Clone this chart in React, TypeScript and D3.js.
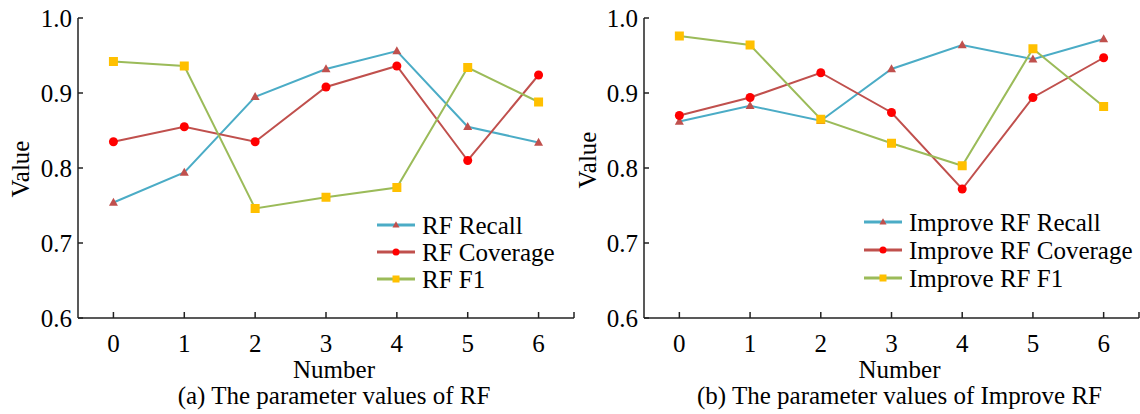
import React from "react"
import * as d3 from "d3"

const numbers = [0, 1, 2, 3, 4, 5, 6]
const yTicks = [0.6, 0.7, 0.8, 0.9, 1.0]

const rfRecall = [0.754, 0.794, 0.895, 0.932, 0.956, 0.855, 0.834]
const rfCoverage = [0.835, 0.855, 0.835, 0.908, 0.936, 0.81, 0.924]
const rfF1 = [0.942, 0.936, 0.746, 0.761, 0.774, 0.934, 0.888]

const impRecall = [0.862, 0.883, 0.863, 0.932, 0.964, 0.945, 0.972]
const impCoverage = [0.87, 0.894, 0.927, 0.874, 0.772, 0.894, 0.947]
const impF1 = [0.976, 0.964, 0.865, 0.833, 0.803, 0.959, 0.882]

const FONT = "'Liberation Serif', 'Times New Roman', serif"

type Marker = "triangle" | "circle" | "square"

interface Series {
  name: string
  values: number[]
  line: string
  fill: string
  marker: Marker
}

function MarkerShape({ type, x, y, size, fill }: { type: Marker; x: number; y: number; size: number; fill: string }) {
  if (type === "circle") return <circle cx={x} cy={y} r={size / 2} fill={fill} />
  if (type === "square")
    return <rect x={x - size / 2} y={y - size / 2} width={size} height={size} fill={fill} />
  const h = size * 0.9
  return (
    <path
      d={`M${x},${y - h * 0.6} L${x + size / 2},${y + h * 0.4} L${x - size / 2},${y + h * 0.4} Z`}
      fill={fill}
    />
  )
}

interface PanelProps {
  left: number
  right: number
  series: Series[]
  caption: string
  legendX: number
  legendY: number[]
  valueX: number
  valueY: number
}

function Panel({ left, right, series, caption, legendX, legendY, valueX, valueY }: PanelProps) {
  const top = 18
  const bottom = 318
  const x = d3.scaleLinear().domain([-0.5, 6.5]).range([left, right])
  const y = d3.scaleLinear().domain([0.6, 1.0]).range([bottom, top])
  const line = d3
    .line<number>()
    .x((_, i) => x(numbers[i]))
    .y((d) => y(d))
  const mid = (left + right) / 2 + 8

  return (
    <g>
      {/* series */}
      {series.map((s) => (
        <g key={s.name}>
          <path d={line(s.values) || ""} fill="none" stroke={s.line} strokeWidth={2} />
          {s.values.map((v, i) => (
            <MarkerShape key={i} type={s.marker} x={x(numbers[i])} y={y(v)} size={9} fill={s.fill} />
          ))}
        </g>
      ))}

      {/* axes */}
      <line x1={left} x2={left} y1={top} y2={bottom} stroke="#222" strokeWidth={1.5} />
      <line x1={left} x2={right} y1={bottom} y2={bottom} stroke="#222" strokeWidth={1.5} />
      {yTicks.map((t) => (
        <g key={t}>
          <line x1={left} x2={left + 5} y1={y(t)} y2={y(t)} stroke="#222" strokeWidth={1.5} />
          <text x={left - 6} y={y(t)} dy="0.35em" textAnchor="end" fontSize={25} fontFamily={FONT}>
            {t.toFixed(1)}
          </text>
        </g>
      ))}
      {numbers.map((n) => (
        <g key={n}>
          <line x1={x(n)} x2={x(n)} y1={bottom} y2={bottom - 6} stroke="#222" strokeWidth={1.5} />
          <text x={x(n)} y={352} textAnchor="middle" fontSize={25} fontFamily={FONT}>
            {n}
          </text>
        </g>
      ))}
      <line x1={right} x2={right} y1={bottom} y2={bottom - 6} stroke="#222" strokeWidth={1.5} />

      <text
        transform={`translate(${valueX},${valueY}) rotate(-90)`}
        textAnchor="middle"
        dy="0.35em"
        fontSize={25}
        fontFamily={FONT}
      >
        Value
      </text>
      <text x={mid} y={378} textAnchor="middle" fontSize={25} fontFamily={FONT}>
        Number
      </text>
      <text x={mid} y={404} textAnchor="middle" fontSize={25} fontFamily={FONT}>
        {caption}
      </text>

      {/* legend */}
      {series.map((s, i) => (
        <g key={s.name}>
          <line x1={legendX} x2={legendX + 38} y1={legendY[i]} y2={legendY[i]} stroke={s.line} strokeWidth={3} />
          <MarkerShape type={s.marker} x={legendX + 19} y={legendY[i]} size={7} fill={s.fill} />
          <text x={legendX + 45} y={legendY[i]} dy="0.35em" fontSize={25} fontFamily={FONT}>
            {s.name}
          </text>
        </g>
      ))}
    </g>
  )
}

export default function App() {
  const left: Series[] = [
    { name: "RF Recall", values: rfRecall, line: "#4bacc6", fill: "#c0504d", marker: "triangle" },
    { name: "RF Coverage", values: rfCoverage, line: "#c0504d", fill: "#ff0000", marker: "circle" },
    { name: "RF F1", values: rfF1, line: "#9bbb59", fill: "#ffc000", marker: "square" },
  ]
  const right: Series[] = [
    { name: "Improve RF Recall", values: impRecall, line: "#4bacc6", fill: "#c0504d", marker: "triangle" },
    { name: "Improve RF Coverage", values: impCoverage, line: "#c0504d", fill: "#ff0000", marker: "circle" },
    { name: "Improve RF F1", values: impF1, line: "#9bbb59", fill: "#ffc000", marker: "square" },
  ]
  return (
    <svg
      width={1140}
      height={414}
      style={{ position: "absolute", left: 0, top: 0, background: "#fff" }}
    >
      <Panel
        left={78}
        right={574}
        series={left}
        caption="(a) The parameter values of RF"
        legendX={377}
        legendY={[225, 252, 279]}
        valueX={20}
        valueY={169}
      />
      <Panel
        left={644}
        right={1139}
        series={right}
        caption="(b) The parameter values of Improve RF"
        legendX={864}
        legendY={[222, 250, 278]}
        valueX={587}
        valueY={160}
      />
    </svg>
  )
}
